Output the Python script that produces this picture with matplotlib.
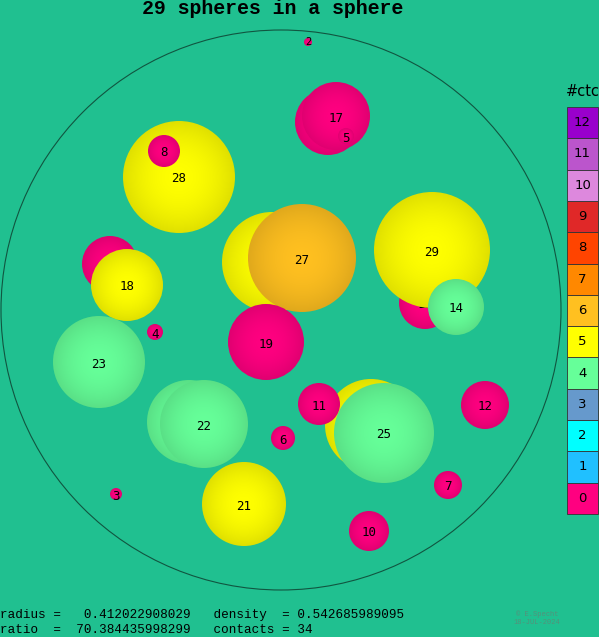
import numpy as np
import matplotlib
matplotlib.use("Agg")
import matplotlib.pyplot as plt
from matplotlib.patches import Circle, Rectangle

# data (pixel coordinates of the rendered projection)
labels = [16, 15, 26, 13, 20, 24,
          29, 28, 27, 25, 23, 22, 21, 19, 18, 17, 14, 12, 11, 10, 8, 7, 6, 5, 4, 3, 2]
xs = [328, 110, 272, 425, 189, 371,
      432, 179, 302, 384, 99, 204, 244, 266, 127, 336, 456, 485, 319, 369, 164, 448, 283, 346, 155, 116, 308]
ys = [122, 264, 262, 303, 422, 425,
      250, 177, 258, 433, 362, 424, 504, 342, 285, 116, 307, 405, 404, 531, 151, 485, 438, 136, 332, 494, 42]
rs = [33, 28, 50, 26, 42, 46,
      58, 56, 54, 50, 46, 44, 42, 38, 36, 34, 28, 24, 21, 20, 16, 14, 12, 8, 8, 6, 4]
contacts = [0, 0, 5, 0, 4, 5,
            5, 5, 6, 4, 4, 4, 5, 0, 5, 0, 4, 0, 0, 0, 0, 0, 0, 0, 0, 0, 0]
# labels fully covered by spheres in front
hidden = [16, 15, 26, 20, 24]

ctc_colors = ['#ff0080', '#20c0ff', '#00ffff', '#6699cc', '#66ff99', '#ffff00', '#ffc020',
              '#ff8800', '#ff4400', '#e02828', '#dd88dd', '#bb55cc', '#9900cc']

bg = '#20c090'
W, H = 599, 637

fig = plt.figure(figsize=(W / 100, H / 100), dpi=100, facecolor=bg)
ax = fig.add_axes([0, 0, 1, 1])
ax.set_facecolor(bg)

# container sphere
ax.add_patch(Circle((281, 310), 280, fill=False, edgecolor='#115540', linewidth=0.8, zorder=1))

# radial shading
n = 64
g = np.linspace(-1, 1, n)
gx, gy = np.meshgrid(g, g)
d2 = np.clip(gx ** 2 + gy ** 2, 0, 1)
shade = 1 - 0.12 * d2

for i, (lab, x, y, r, c) in enumerate(zip(labels, xs, ys, rs, contacts)):
    z = 2 + i
    rgb = np.array(matplotlib.colors.to_rgb(ctc_colors[c]))
    img = np.clip(shade[:, :, None] * rgb[None, None, :], 0, 1)
    patch = Circle((x, y), r, facecolor='none', edgecolor='none')
    ax.add_patch(patch)
    im = ax.imshow(img, extent=(x - r, x + r, y + r, y - r), zorder=z,
                   interpolation='bilinear')
    im.set_clip_path(patch)
    if lab in hidden:
        continue
    if r >= 6:
        ax.text(x, y + 2, str(lab), ha='center', va='center', fontsize=9,
                family='DejaVu Sans Mono', color='black', zorder=z + 0.5)
    else:
        ax.text(x, y, str(lab), ha='center', va='center', fontsize=7.5,
                family='DejaVu Sans Mono', color='black', zorder=z + 0.5)

# legend of contact counts
bx, btop, bw, bh = 567, 107, 31, 31.3
ax.text(bx - 1, 92, '#ctc', ha='left', va='center', fontsize=10.5, family='DejaVu Sans', zorder=50)
for k in range(13):
    yk = btop + (12 - k) * bh
    ax.add_patch(Rectangle((bx, yk), bw, bh, facecolor=ctc_colors[k], edgecolor='#333333',
                           linewidth=0.6, zorder=50))
    ax.text(bx + bw / 2, yk + bh / 2, str(k), ha='center', va='center', fontsize=9.5,
            family='DejaVu Sans', zorder=51)

# title and info
ax.text(273, 14, '29 spheres in a sphere', ha='center', va='baseline', fontsize=14.3,
        family='Liberation Mono', fontweight='bold', zorder=60)
ax.text(0, 615, 'radius =   0.412022908029   density  = 0.542685989095', ha='left',
        va='center', fontsize=9.1, family='Liberation Mono', zorder=60)
ax.text(0, 630, 'ratio  =  70.384435998299   contacts = 34', ha='left',
        va='center', fontsize=9.1, family='Liberation Mono', zorder=60)
ax.text(537, 614, '© E.Specht', ha='center', va='center', fontsize=5,
        family='Liberation Mono', color='#55907a', zorder=60)
ax.text(537, 623, '18-JUL-2024', ha='center', va='center', fontsize=5,
        family='Liberation Mono', color='#55907a', zorder=60)

ax.set_xlim(0, W)
ax.set_ylim(H, 0)
ax.set_aspect('auto')
ax.axis('off')

fig.savefig('out.png', dpi=100, facecolor=bg)
